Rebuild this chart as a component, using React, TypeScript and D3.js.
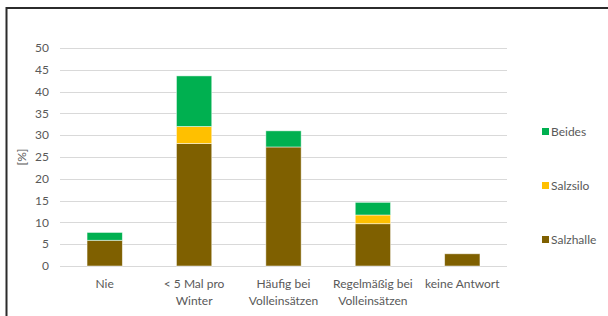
import React, { useEffect, useRef } from 'react';
import * as d3 from 'd3';

const categories = ['Nie', '< 5 Mal pro Winter', 'Häufig bei Volleinsätzen', 'Regelmäßig bei Volleinsätzen', 'keine Antwort'];
const categoryLines = [['Nie'], ['< 5 Mal pro', 'Winter'], ['Häufig bei', 'Volleinsätzen'], ['Regelmäßig bei', 'Volleinsätzen'], ['keine Antwort']];
const salzhalle = [5.9, 28.1, 27.3, 9.7, 2.8];
const salzsilo = [0, 3.9, 0, 2.0, 0];
const beides = [1.8, 11.6, 3.7, 2.9, 0];
const seriesNames = ['Salzhalle', 'Salzsilo', 'Beides'];
const seriesColors = ['#7F6000', '#FFC000', '#00B050'];
const yTicks = [0, 5, 10, 15, 20, 25, 30, 35, 40, 45, 50];

const FONT = 'Lato, "Open Sans", sans-serif';
const FS = '12px';

const App = () => {
  const svgRef = useRef<SVGSVGElement>(null);

  useEffect(() => {
    const svg = d3.select(svgRef.current);
    svg.selectAll('*').remove();

    const width = 608;
    const height = 316;
    const plot = { left: 60, right: 507, top: 48, bottom: 266 };

    // outer frame (chart area border, cut off at right/bottom)
    svg.append('rect')
      .attr('x', 6.5).attr('y', 8)
      .attr('width', width).attr('height', height)
      .attr('fill', '#fff')
      .attr('stroke', '#2b2b2b')
      .attr('stroke-width', 2);

    const rows = categories.map((c, i) => ({
      cat: c,
      Salzhalle: salzhalle[i],
      Salzsilo: salzsilo[i],
      Beides: beides[i],
    }));

    const x = d3.scaleBand()
      .domain(categories)
      .range([plot.left, plot.right])
      .paddingInner(0.605)
      .paddingOuter(0.3025);

    const y = d3.scaleLinear()
      .domain([0, 50])
      .range([plot.bottom, plot.top]);

    // gridlines
    svg.append('g')
      .selectAll('line')
      .data(yTicks)
      .enter()
      .append('line')
      .attr('x1', plot.left)
      .attr('x2', plot.right)
      .attr('y1', d => Math.round(y(d)) + 0.5)
      .attr('y2', d => Math.round(y(d)) + 0.5)
      .attr('stroke', '#d9d9d9')
      .attr('stroke-width', 1.2);

    // y tick labels
    svg.append('g')
      .selectAll('text')
      .data(yTicks)
      .enter()
      .append('text')
      .attr('x', 49)
      .attr('y', d => y(d))
      .attr('dy', '0.35em')
      .attr('text-anchor', 'end')
      .style('font-family', FONT)
      .style('font-size', FS)
      .style('fill', '#595959')
      .text(d => d);

    svg.append('text')
      .attr('transform', `translate(26, ${(plot.top + plot.bottom) / 2}) rotate(-90)`)
      .attr('text-anchor', 'middle')
      .style('font-family', FONT)
      .style('font-size', FS)
      .style('fill', '#595959')
      .text('[%]');

    const stack = d3.stack().keys(seriesNames)(rows as any);

    const color = d3.scaleOrdinal<string>().domain(seriesNames).range(seriesColors);

    svg.append('g')
      .selectAll('g')
      .data(stack)
      .enter()
      .append('g')
      .attr('fill', d => color(d.key))
      .selectAll('rect')
      .data(d => d.filter(p => p[1] - p[0] > 0))
      .enter()
      .append('rect')
      .attr('x', d => x((d.data as any).cat) as number)
      .attr('width', x.bandwidth())
      .attr('y', d => y(d[1]))
      .attr('height', d => y(d[0]) - y(d[1]))
      .attr('stroke', '#ffffff')
      .attr('stroke-opacity', 0.6)
      .attr('stroke-width', 0.8);

    // x labels
    const xl = svg.append('g');
    categories.forEach((c, i) => {
      const t = xl.append('text')
        .attr('x', (x(c) as number) + x.bandwidth() / 2)
        .attr('y', 288)
        .attr('text-anchor', 'middle')
        .style('font-family', FONT)
        .style('font-size', FS)
        .style('fill', '#595959');
      categoryLines[i].forEach((line, j) => {
        t.append('tspan')
          .attr('x', (x(c) as number) + x.bandwidth() / 2)
          .attr('dy', j === 0 ? 0 : 16.5)
          .text(line);
      });
    });

    // legend (reverse order like Excel)
    const legendY = [131.5, 185.5, 239.5];
    const legendOrder = ['Beides', 'Salzsilo', 'Salzhalle'];
    const lg = svg.append('g');
    legendOrder.forEach((name, i) => {
      lg.append('rect')
        .attr('x', 542)
        .attr('y', legendY[i] - 3.5)
        .attr('width', 7)
        .attr('height', 7)
        .attr('fill', color(name));
      lg.append('text')
        .attr('x', 551)
        .attr('y', legendY[i])
        .attr('dy', '0.35em')
        .style('font-family', FONT)
        .style('font-size', FS)
        .style('fill', '#595959')
        .text(name);
    });
  }, []);

  return (
    <svg
      ref={svgRef}
      width={608}
      height={316}
      style={{ position: 'absolute', left: 0, top: 0, display: 'block', background: '#fff' }}
    ></svg>
  );
};

export default App;
